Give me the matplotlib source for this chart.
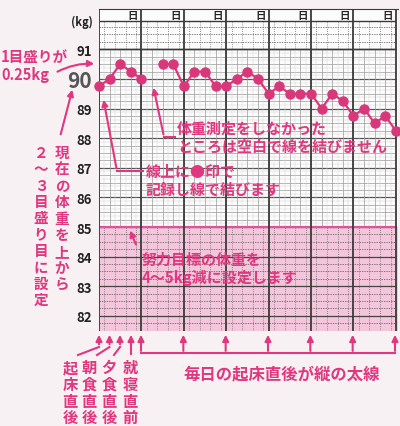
import matplotlib
matplotlib.use("Agg")
import matplotlib.pyplot as plt
import numpy as np

plt.rcParams['font.family'] = ['Noto Sans CJK JP', 'DejaVu Sans']

# readings: 4 per day (起床, 朝食, 夕食, 就寝), nan = not measured
weights = [89.75, 90.0, 90.5, 90.25, 90.0, np.nan, 90.5, 90.5, 89.75,
           90.25, 90.25, 89.75, 89.75, 90.0, 90.25, 90.0, 89.5, 89.75,
           89.5, 89.5, 89.5, 89.0, 89.5, 89.25, 88.75, 89.0, 88.5, 88.75, 88.25]
yticks = [82, 83, 84, 85, 86, 87, 88, 89, 90, 91]
n_days = 7
slots = 4
goal_top = 85

pink = '#e0377e'
grid_dark = '#3a3a3a'

fig = plt.figure(figsize=(4, 4.27), dpi=100)
fig.patch.set_facecolor('#f8f1f4')

W, H = 400, 427
ax = fig.add_axes([99 / W, 1 - 332 / H, (398 - 99) / W, (332 - 10) / H])
ax.set_facecolor('#fdfcfc')
ymin, ymax = 81.49, 92.36
xmax = n_days * slots
ax.set_xlim(0, xmax + 0.2)
ax.set_ylim(ymin, ymax)
head = 91.96

# goal area
ax.axhspan(ymin, goal_top, color='#f3c6dc', zorder=0)

# fine grid in measuring area
for y in np.arange(goal_top, 91.001, 0.125):
    if abs(y - round(y)) < 1e-6:
        ax.hlines(y, 0, xmax, color='#555555', lw=0.9, zorder=1)
    elif abs(y * 4 - round(y * 4)) < 1e-6:
        ax.hlines(y, 0, xmax, color='#9a9a9a', lw=0.5, zorder=1)
    else:
        ax.hlines(y, 0, xmax, color='#d6d6d6', lw=0.35, zorder=1)
for x in np.arange(0, xmax, 0.5):
    if x % 1 == 0:
        ax.vlines(x, goal_top, 91, color='#9a9a9a', lw=0.5, zorder=1)
    else:
        ax.vlines(x, goal_top, 91, color='#d6d6d6', lw=0.35, zorder=1)

# dotted grid in goal area and memo area
for y0, y1 in [(ymin, goal_top), (91, head)]:
    for y in np.arange(np.ceil(y0 * 4) / 4, y1, 0.25):
        if abs(y - round(y)) < 1e-6:
            ax.hlines(y, 0, xmax, color='#444444', lw=0.9, zorder=1)
        else:
            ax.hlines(y, 0, xmax, color='#555555', lw=0.5, linestyles=(0, (2, 1.5)), zorder=1)
    for x in range(0, xmax):
        ax.vlines(x + 0.5, y0, y1, color='#555555', lw=0.45, linestyles=(0, (1.5, 2)), zorder=1)
ax.hlines(goal_top, 0, xmax, color='#e0529a', lw=1.6, zorder=2)
ax.hlines([91, head], 0, xmax, color=grid_dark, lw=1.0, zorder=2)

# day lines
for d in range(n_days + 1):
    ax.vlines(d * slots, ymin, ymax, color=grid_dark, lw=1.3, zorder=2)
    if d < n_days:
        ax.text(d * slots + 3.2, (head + ymax) / 2, '日', fontsize=7.5,
                fontweight='bold', ha='center', va='center', color='#222222')

# weight line
x = np.arange(len(weights))
ax.plot(x, weights, '-o', color='#d8377a', lw=1.6, markersize=6.5, zorder=5,
        clip_on=False)

ax.set_yticks(yticks)
ax.set_yticklabels([str(t) for t in yticks])
ax.set_xticks([])
ax.tick_params(axis='y', length=0, pad=5, labelsize=9.5, labelcolor='#222222')
for lbl in ax.get_yticklabels():
    lbl.set_fontweight('bold')
    if lbl.get_text() == '90':
        lbl.set_fontsize(15)
        lbl.set_color('#555555')
for s in ax.spines.values():
    s.set_visible(False)
ax.spines['top'].set_visible(True)
ax.spines['top'].set_color(grid_dark)

# annotation layer in pixel coordinates
an = fig.add_axes([0, 0, 1, 1], facecolor='none')
an.set_xlim(0, W)
an.set_ylim(H, 0)
an.axis('off')

tk = dict(color=pink, fontweight='bold')
arr = dict(arrowstyle='-|>', color=pink, lw=1.5, mutation_scale=9)

an.text(82, 22, '(kg)', fontsize=8, fontweight='bold', ha='center', va='center', color='#222222')

an.text(1, 57, '1目盛りが', fontsize=10.5, ha='left', va='center', **tk)
an.text(1, 75, '0.25kg', fontsize=10.5, ha='left', va='center', **tk)
an.annotate('', xy=(97, 65), xytext=(55, 74),
            arrowprops=dict(connectionstyle='arc3,rad=-0.15', **arr))

for k, ch in enumerate('現在の体重を上から'):
    an.text(62, 153 + k * 16.5, ch, fontsize=10.5, ha='center', va='center', **tk)
for k, ch in enumerate('２～３目盛り目に設定'):
    an.text(41, 153 + k * 16.3, ch, fontsize=10.5, ha='center', va='center', **tk)
an.annotate('', xy=(73, 88), xytext=(60, 138), arrowprops=arr)

an.text(177, 129, '体重測定をしなかった', fontsize=10.8, ha='left', va='center', **tk)
an.text(177, 147, 'ところは空白で線を結びません', fontsize=10.8, ha='left', va='center', **tk)
an.plot([175, 164], [138, 138], color=pink, lw=1.5)
an.annotate('', xy=(153, 86), xytext=(164, 138), arrowprops=arr)

an.text(146, 172, '線上に●印で', fontsize=10.8, ha='left', va='center', **tk)
an.text(146, 190, '記録し線で結びます', fontsize=10.8, ha='left', va='center', **tk)
an.plot([143, 117], [172, 172], color=pink, lw=1.5)
an.annotate('', xy=(103, 98), xytext=(117, 172), arrowprops=arr)

an.text(142, 260, '努力目標の体重を', fontsize=10.8, ha='left', va='center', **tk)
an.text(142, 278, '4～5kg減に設定します', fontsize=10.8, ha='left', va='center', **tk)
an.annotate('', xy=(129, 229), xytext=(137, 248), arrowprops=arr)

# bottom pointers
day_px = [141 + d * (395 - 141) / 6 for d in range(7)]
an.plot([day_px[0], day_px[-1]], [354, 354], color=pink, lw=1.5)
for px in day_px:
    an.annotate('', xy=(px, 333), xytext=(px, 354.7), arrowprops=arr)
for px, lx in [(99, 78), (109.5, 97), (120, 114)]:
    an.annotate('', xy=(px, 333), xytext=(px, 348), arrowprops=arr)
    an.plot([px, lx], [348, 356], color=pink, lw=1.5)
an.annotate('', xy=(131, 333), xytext=(131, 358), arrowprops=arr)

labels = ['起床直後', '朝食直後', '夕食直後', '就寝直前']
for cx, lab in zip([70, 89, 109, 130], labels):
    for k, ch in enumerate(lab):
        an.text(cx, 368 + k * 16.8, ch, fontsize=11, ha='center', va='center', **tk)
an.text(282, 374, '毎日の起床直後が縦の太線', fontsize=11.8, ha='center', va='center', **tk)

fig.savefig('out.png', dpi=100, facecolor=fig.get_facecolor())
